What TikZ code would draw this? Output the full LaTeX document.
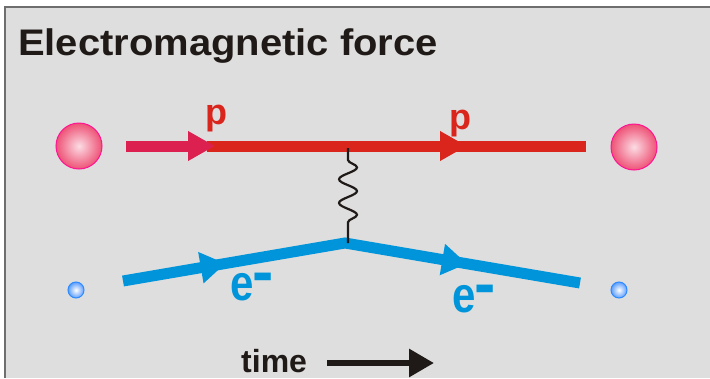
\documentclass[tikz,border=0pt]{standalone}
\usepackage{fontspec}
\setmainfont{Liberation Sans}
\usetikzlibrary{arrows.meta,decorations.pathmorphing,decorations.markings}
\definecolor{panelgray}{HTML}{DEDEDE}
\definecolor{framegray}{HTML}{6E6E6E}
\definecolor{protonred}{HTML}{DA251D}
\definecolor{protonpink}{HTML}{DC2150}
\definecolor{electronblue}{HTML}{0095DA}
\definecolor{inkblack}{HTML}{1F1A17}
\definecolor{ballpink}{HTML}{EE5276}
\definecolor{ballrim}{HTML}{FF1493}
\definecolor{dotblue}{HTML}{5C9DFF}
\definecolor{dotrim}{HTML}{2E8BFF}
\newcommand{\eminus}{\scalebox{1}[1.2]{e}\kern-1pt\raisebox{7pt}{\fontsize{64}{64}\selectfont -}}

\begin{document}
\begin{tikzpicture}[x=1pt, y=-1pt,
    proton/.style={circle, draw=ballrim, line width=1pt, inner color=white!80!ballpink, outer color=ballpink, minimum size=46pt, inner sep=0pt},
    electron/.style={circle, draw=dotrim, line width=1pt, inner color=white, outer color=dotblue, minimum size=16pt, inner sep=0pt},
    plabel/.style={font=\fontsize{36}{36}\selectfont\bfseries, text=protonred, inner sep=0pt, anchor=base west},
    elabel/.style={font=\fontsize{42}{42}\selectfont\bfseries, text=electronblue, inner sep=0pt, anchor=base west},
    protonline/.style={draw=protonred, line width=11pt, postaction={decorate}, decoration={markings,
        mark=at position 260pt with {\arrow{Triangle[length=27pt, width=28pt]}}}},
    electronline/.style={draw=electronblue, line width=11pt, line join=miter,
      postaction={decorate}, decoration={markings,
        mark=at position 104pt with {\arrow{Triangle[length=25pt, width=30pt]}},
        mark=at position 349pt with {\arrow{Triangle[length=25pt, width=30pt]}}}},
    tip/.style={-{Triangle[length=27pt, width=28pt]}},
    photon/.style={draw=inkblack, line width=2.2pt, decorate, decoration={snake, amplitude=9pt, segment length=23.7pt, pre length=12pt, post length=12pt}}
  ]
    % panel
    \useasboundingbox (0,0) rectangle (710,378);
    \fill[white] (0,0) rectangle (710,378);
    \fill[panelgray] (5,7) rectangle (710,378);
    \draw[framegray, line width=1.5pt] (5,378) -- (5,7) -- (710,7);

    \node[font=\fontsize{37}{37}\selectfont\bfseries, text=inkblack, inner sep=0pt, anchor=base west] (title) at (18,55) {\scalebox{1.08}[1]{Electromagnetic force}};

    % particles
    \node[proton] (pin) at (79,146) {};
    \node[proton] (pout) at (634,147) {};
    \node[electron] (ein) at (76,290) {};
    \node[electron] (eout) at (619,290) {};

    % lines
    \coordinate (pa) at (126,146);
    \coordinate (pb) at (215,146);
    \coordinate (pr) at (207,146);
    \coordinate (pd) at (586,146);
    \coordinate (ea) at (123,281);
    \coordinate (vtx) at (345,243);
    \coordinate (eb) at (580,283);
    \coordinate (phtop) at (348,148);
    \coordinate (phbot) at (348,243);

    \draw[protonline] (pr) -- (pd);
    \draw[draw=protonpink, line width=11pt, tip] (pa) -- (pb);
    \draw[electronline] (ea) -- (vtx) -- (eb);
    \draw[photon] (phtop) -- (phbot);

    % labels
    \node[plabel] (p1) at (205.5,124) {p};
    \node[plabel] (p2) at (449.5,129) {p};
    \node[elabel] (e1) at (230,300) {\eminus};
    \node[elabel] (e2) at (452,312) {\eminus};

    % time axis
    \node[font=\fontsize{32}{32}\selectfont\bfseries, text=inkblack, inner sep=0pt, anchor=base west] (time) at (241,372) {time};
    \coordinate (tstart) at (327,363);
    \coordinate (tend) at (434,363);
    \draw[inkblack, line width=6pt, -{Triangle[length=25pt, width=27pt]}] (tstart) -- (tend);
\end{tikzpicture}
\end{document}
